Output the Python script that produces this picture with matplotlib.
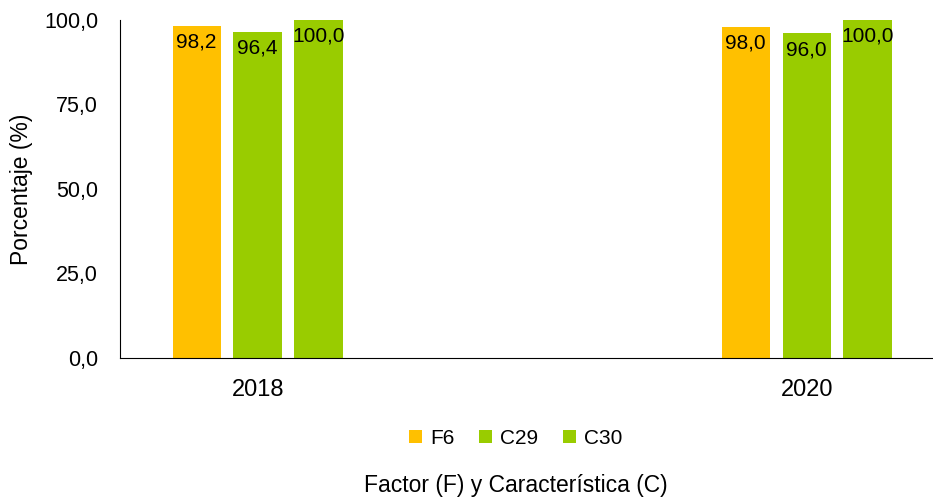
import matplotlib
matplotlib.use("Agg")
import matplotlib.pyplot as plt
import numpy as np

years = ["2018", "2020"]
series = ["F6", "C29", "C30"]
values = {
    "F6": [98.2, 98.0],
    "C29": [96.4, 96.0],
    "C30": [100.0, 100.0],
}
colors = {"F6": "#FFC000", "C29": "#99CC00", "C30": "#99CC00"}

plt.rcParams["font.family"] = ["Liberation Sans", "DejaVu Sans"]

fig = plt.figure(figsize=(9.33, 4.97), dpi=100)
ax = fig.add_axes([0.129, 0.28, 0.871, 0.68])

x = np.arange(len(years))
width = 0.088
step = 0.111
for i, s in enumerate(series):
    pos = x + (i - 1) * step
    bars = ax.bar(pos, values[s], width, color=colors[s], label=s)
    for b, v in zip(bars, values[s]):
        ax.annotate(f"{v:.1f}".replace(".", ","), (b.get_x() + b.get_width() / 2, v),
                    xytext=(0, -5), textcoords="offset points",
                    ha="center", va="top", fontsize=15)

ax.set_xlim(-0.25, 1.23)
ax.set_ylim(0, 100)
ax.set_yticks([0, 25, 50, 75, 100])
ax.set_yticklabels(["0,0", "25,0", "50,0", "75,0", "100,0"])
ax.set_xticks(x)
ax.set_xticklabels(years)
ax.tick_params(axis="both", length=0)
ax.tick_params(axis="x", pad=15, labelsize=17)
ax.tick_params(axis="y", pad=16, labelsize=15.5)
for sp in ["top", "right"]:
    ax.spines[sp].set_visible(False)
ax.set_ylabel("Porcentaje (%)", fontsize=16.5, labelpad=8)

fig.legend(loc="center", bbox_to_anchor=(0.553, 0.118), ncol=3, frameon=False,
           fontsize=15, handlelength=0.6, handleheight=0.6, handletextpad=0.4,
           columnspacing=1.2)
fig.text(0.553, 0.01, "Factor (F) y Característica (C)", ha="center", fontsize=16.5)

fig.savefig("out.png", dpi=100)
